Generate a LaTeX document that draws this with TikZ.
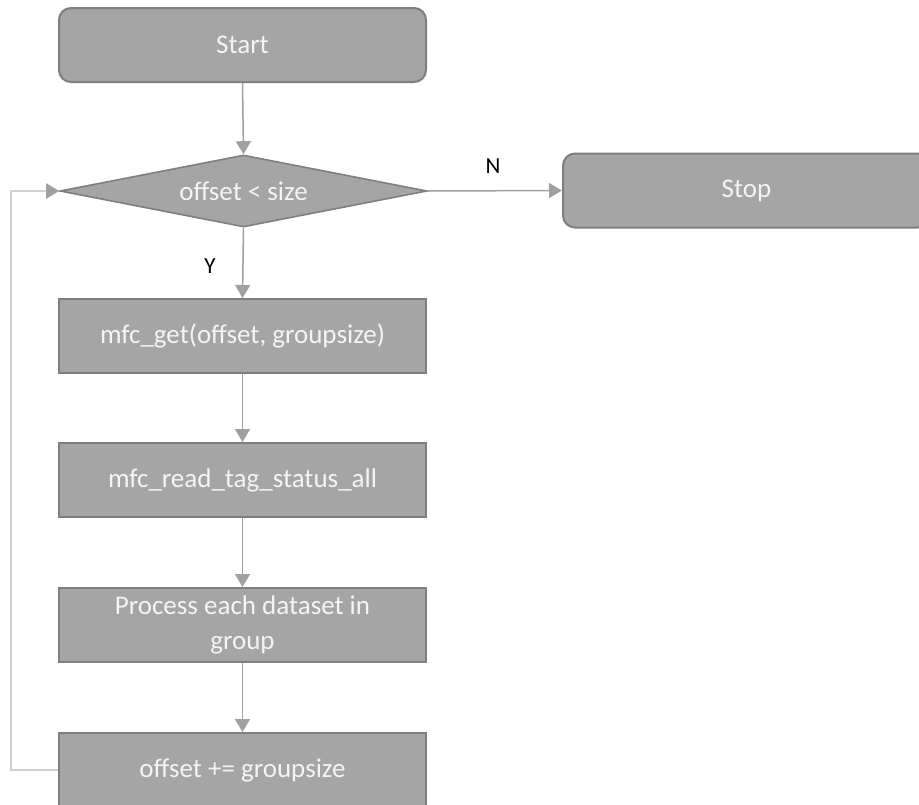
\documentclass[tikz,border=0pt]{standalone}
\usepackage{fontspec}
\setmainfont{Carlito}
\usetikzlibrary{arrows.meta,shapes.geometric}
\definecolor{boxfill}{HTML}{A5A5A5}
\definecolor{boxline}{HTML}{7F7F7F}
\definecolor{flowline}{HTML}{A0A0A0}
\definecolor{loopline}{HTML}{D0D0D0}
\definecolor{boxtext}{HTML}{F4F4F4}
\begin{document}
\begin{tikzpicture}[x=1pt,y=-1pt,
  every node/.style={font=\fontsize{27}{35}\selectfont},
  procbox/.style={rectangle,draw=boxline,line width=2pt,fill=boxfill,
    text=boxtext,minimum width=367pt,minimum height=74pt,inner sep=0pt,
    align=center},
  termbox/.style={procbox,rounded corners=12pt},
  decbox/.style={diamond,draw=boxline,line width=1.6pt,fill=boxfill,
    text=boxtext,aspect=5,minimum width=367pt,minimum height=72pt,inner sep=0pt},
  flow/.style={draw=flowline,line width=1.5pt,
    -{Triangle[width=15pt,length=13pt,color=flowline]}},
  loopback/.style={draw=loopline,line width=2pt,
    -{Triangle[width=15pt,length=13pt,color=flowline]}},
  lbl/.style={text=black,font=\fontsize{23}{27}\selectfont,inner sep=0pt}]
\useasboundingbox (0,0) rectangle (919,804);
\clip (0,0) rectangle (919,804);
\fill[white] (0,0) rectangle (919,804);

\node[termbox] (start) at (242.5,45) {Start};
\node[decbox] (dec) at (243.5,191) {offset < size};
\node[termbox] (stop) at (746.5,190.5) {Stop};
\node[procbox] (get) at (242.5,336) {mfc\_get(offset, groupsize)};
\node[procbox] (read) at (242.5,480) {mfc\_read\_tag\_status\_all};
\node[procbox] (proc) at (242.5,625) {Process each dataset in\\group};
\node[procbox] (off) at (242.5,770) {offset += groupsize};

\draw[flow] (start.south) -- (dec.north);
\draw[flow] (dec.east) -- (stop.west);
\draw[flow] (dec.south) -- (get.north);
\draw[flow] (get.south) -- (read.north);
\draw[flow] (read.south) -- (proc.north);
\draw[flow] (proc.south) -- (off.north);
\node[lbl] (nlab) at (493,166) {N};
\node[lbl] (ylab) at (210,266) {Y};
\coordinate (loopcorner) at (11,770);
\draw[loopback] (off.west) -- (loopcorner) |- (dec.west);
\end{tikzpicture}
\end{document}
